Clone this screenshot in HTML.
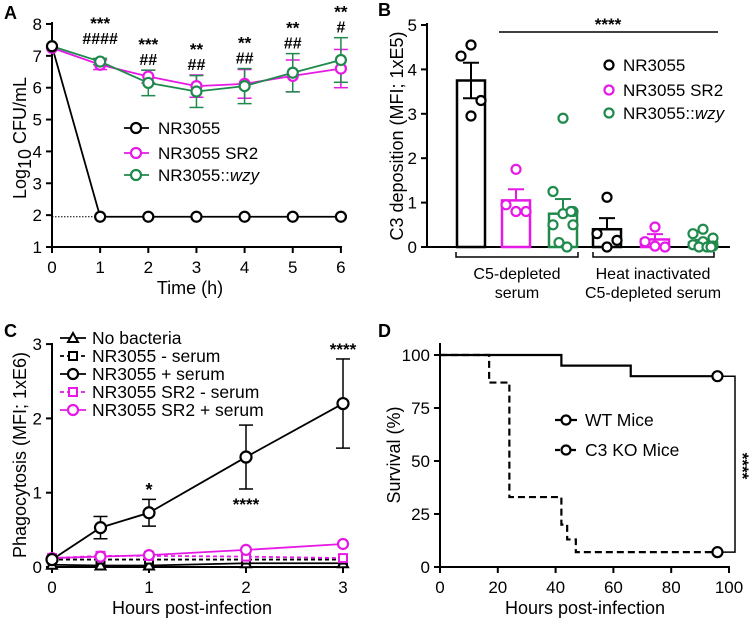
<!DOCTYPE html>
<html><head><meta charset="utf-8">
<style>
html,body{margin:0;padding:0;background:#fff;}
svg{display:block;font-family:"Liberation Sans",Arial,sans-serif;}
</style></head>
<body>
<svg id="fig" width="750" height="620" viewBox="0 0 750 620" xmlns="http://www.w3.org/2000/svg"></svg>
<script>
// ---------- Panel A data ----------
const aTimes = [0,1,2,3,4,5,6];
const aNR = [7.3,1.95,1.95,1.95,1.95,1.95,1.95];
const aSR2 = [7.25,6.72,6.35,6.05,6.12,6.37,6.6];
const aSR2Err = [0.05,0.15,0.2,0.35,0.45,0.5,0.6];
const aWzy = [7.3,6.82,6.15,5.88,6.05,6.47,6.87];
const aWzyErr = [0.05,0.1,0.4,0.5,0.55,0.6,0.7];
const aStars = ["","***","***","**","**","**","**"];
const aHash = ["","####","##","##","##","##","#"];
const aYTicks = [1,2,3,4,5,6,7,8];
// ---------- Panel B data ----------
const bMeans = [3.75,1.05,0.75,0.4,0.17,0.1];
const bSem = [0.4,0.25,0.33,0.25,0.12,0.06];
const bColors = ["#000","#e619e6","#1f8a4c","#000","#e619e6","#1f8a4c"];
const bPoints = [
  [4.55,4.3,3.3,2.95],
  [1.75,0.95,0.8,0.8],
  [2.9,1.25,0.8,0.75,0.5,0.5,0.1,0.0,0.8],
  [1.12,0.3,0.15,0.0],
  [0.45,0.12,0.0,0.02],
  [0.4,0.3,0.2,0.12,0.05,0.02,0.0,0.0,0.0]
];
const bYTicks = [0,1,2,3,4,5];
// ---------- Panel C data ----------
const cTimes = [0,0.5,1,2,3];
const cNRplus = [0.1,0.53,0.73,1.48,2.2];
const cNRplusErr = [0.02,0.15,0.18,0.43,0.6];
const cSRplus = [0.12,0.14,0.16,0.23,0.31];
const cSRminus = [0.12,0.15,0.15,0.14,0.12];
const cNRminus = [0.1,0.1,0.1,0.1,0.1];
const cNoBact = [0.03,0.02,0.02,0.05,0.05];
const cYTicks = [0,1,2,3];
const cXTicks = [0,1,2,3];
// ---------- Panel D data ----------
const dWTt = [0,42,66,96];
const dWTv = [100,95,90,90];
const dKOt = [0,17,24,42,44,47,96];
const dKOv = [100,87,33,20,13,7,7];
const dXTicks = [0,20,40,60,80,100];
const dYTicks = [0,25,50,75,100];

const NS="http://www.w3.org/2000/svg";
const svg=document.getElementById('fig');
function mk(tag,attrs,name,parent){
  const el=document.createElementNS(NS,tag);
  for(const k in attrs) el.setAttribute(k,attrs[k]);
  
  
  (parent||svg).appendChild(el);
  return el;
}
function txt(x,y,s,name,opts){
  opts=opts||{};
  const t=mk('text',{x:x,y:y,'font-size':opts.fs||17,'text-anchor':opts.anchor||'middle',fill:opts.fill||'#000','font-weight':opts.fw||'normal'},name,opts.parent);
  if(opts.rot) t.setAttribute('transform','rotate('+opts.rot+' '+x+' '+y+')');
  t.textContent=s;
  return t;
}
function line(x1,y1,x2,y2,name,st){
  st=st||{};
  return mk('line',{x1:x1,y1:y1,x2:x2,y2:y2,stroke:st.c||'#000','stroke-width':st.w||2,'stroke-dasharray':st.d||'none'},name);
}
function circ(x,y,name,c,r){return mk('circle',{cx:x,cy:y,r:r||5,fill:'#fff',stroke:c,'stroke-width':2.2},name);}
function poly(pts,name,c,dash,w){return mk('polyline',{points:pts.map(p=>p.join(',')).join(' '),fill:'none',stroke:c,'stroke-width':w||1.8,'stroke-dasharray':dash||'none'},name);}

// ================= PANEL A =================
const axA=v=>52+v*48.15, ayA=v=>247-(v-1)*31.86;
txt(4,19,'A','panel-a-label',{anchor:'start',fw:'bold',fs:18});
line(52,22,52,248,'a-y-axis');
line(51,247,342,247,'a-x-axis');
aYTicks.forEach(v=>{line(46,ayA(v),52,ayA(v),'a-y-tick');txt(42,ayA(v)+6,String(v),'a-y-tick-label',{anchor:'end'});});
aTimes.forEach(v=>{line(axA(v),247,axA(v),253,'a-x-tick');txt(axA(v),273,String(v),'a-x-tick-label');});
txt(190,294,'Time (h)','a-x-axis-title',{fs:18});
(function(){const t=txt(26,138,'','a-y-axis-title',{fs:18,rot:-90});
 t.innerHTML='Log<tspan dy="5" font-size="18">10</tspan><tspan dy="-5"> CFU/mL</tspan>';})();
line(52,ayA(1.95),axA(1),ayA(1.95),'a-detection-limit',{w:1,d:'1.5,1.5'});
const aSeries=[[aSR2,aSR2Err,'#e619e6','sr2'],[aWzy,aWzyErr,'#1f8a4c','wzy']];
aSeries.forEach(s=>{
  s[0].forEach((v,i)=>{if(i>0){const e=s[1][i];line(axA(aTimes[i]),ayA(v-e),axA(aTimes[i]),ayA(v+e),'a-'+s[3]+'-errorbar',{c:s[2],w:1.5});
    line(axA(aTimes[i])-7,ayA(v+e),axA(aTimes[i])+7,ayA(v+e),'a-'+s[3]+'-errorcap',{c:s[2],w:1.5});
    line(axA(aTimes[i])-7,ayA(v-e),axA(aTimes[i])+7,ayA(v-e),'a-'+s[3]+'-errorcap',{c:s[2],w:1.5});}});
  poly(s[0].map((v,i)=>[axA(aTimes[i]),ayA(v)]),'a-'+s[3]+'-line',s[2]);
});
poly(aNR.map((v,i)=>[axA(aTimes[i]),ayA(v)]),'a-nr3055-line','#000');
aSeries.forEach(s=>s[0].forEach((v,i)=>circ(axA(aTimes[i]),ayA(v),'a-'+s[3]+'-point',s[2],5)));
aNR.forEach((v,i)=>circ(axA(aTimes[i]),ayA(v),'a-nr3055-point','#000',5));
aStars.forEach((s,i)=>{if(!s)return;const top=Math.max(aSR2[i]+aSR2Err[i],aWzy[i]+aWzyErr[i]);
  const yb=Math.min(ayA(top)-6, i===1?ayA(7.4):999);
  txt(axA(aTimes[i]),yb-14,s,'a-significance-stars',{fs:17,fw:'bold'});
  txt(axA(aTimes[i]),yb+1,aHash[i],'a-significance-hash',{fs:16,fw:'bold'});});
[['NR3055','#000',128],['NR3055 SR2','#e619e6',153],['NR3055::wzy','#1f8a4c',175]].forEach(l=>{
  line(124,l[2],149,l[2],'a-legend-line',{c:l[1],w:1.8});circ(136,l[2],'a-legend-marker',l[1],5);
  const t=txt(158,l[2]+6,'','a-legend-text',{anchor:'start'});
  if(l[0].includes('::')) t.innerHTML='NR3055::<tspan font-style="italic">wzy</tspan>'; else t.textContent=l[0];});

// ================= PANEL B =================
const ayB=v=>247-v*44.4; const bx=[471,516,563,607,655,703];
txt(378,16,'B','panel-b-label',{anchor:'start',fw:'bold',fs:18});
line(427,23,427,248,'b-y-axis');line(426,247,730,247,'b-x-axis');
bYTicks.forEach(v=>{line(421,ayB(v),427,ayB(v),'b-y-tick');txt(417,ayB(v)+6,String(v),'b-y-tick-label',{anchor:'end'});});
txt(403,136,'C3 deposition (MFI; 1xE5)','b-y-axis-title',{fs:18,rot:-90});
bMeans.forEach((m,i)=>{
  mk('rect',{x:bx[i]-14,y:ayB(m),width:28,height:247-ayB(m),fill:'none',stroke:bColors[i],'stroke-width':2.5},'b-bar');
  line(bx[i],ayB(m),bx[i],ayB(m+bSem[i]),'b-errorbar',{c:bColors[i]});
  line(bx[i]-8,ayB(m+bSem[i]),bx[i]+8,ayB(m+bSem[i]),'b-errorcap',{c:bColors[i]});
  if(i===0){line(bx[i],ayB(m),bx[i],ayB(m-bSem[i]),'b-errorbar',{c:bColors[i]});line(bx[i]-8,ayB(m-bSem[i]),bx[i]+8,ayB(m-bSem[i]),'b-errorcap',{c:bColors[i]});}
  bPoints[i].forEach((p,j)=>{const off=[0,-10,10,0,-10,10,-4,4,8][j%9];circ(bx[i]+off,ayB(p),'b-point',bColors[i],4.5);});
});
[[456,578],[593,714]].forEach(b=>{mk('polyline',{points:`${b[0]},252 ${b[0]},257 ${b[1]},257 ${b[1]},252`,fill:'none',stroke:'#000','stroke-width':1.5},'b-group-bracket');});
txt(517,279,'C5-depleted','b-group-label-1',{fs:16});txt(517,298,'serum','b-group-label-1b',{fs:16});
txt(653,279,'Heat inactivated','b-group-label-2',{fs:16});txt(653,298,'C5-depleted serum','b-group-label-2b',{fs:16});
line(499,32,718,32,'b-significance-line',{w:1.5});txt(608,30,'****','b-significance-stars',{fw:'bold'});
[['NR3055','#000',65],['NR3055 SR2','#e619e6',90],['NR3055::wzy','#1f8a4c',113]].forEach(l=>{
  circ(609,l[2],'b-legend-marker',l[1],4.5);
  const t=txt(623,l[2]+6,'','b-legend-text',{anchor:'start'});
  if(l[0].includes('::')) t.innerHTML='NR3055::<tspan font-style="italic">wzy</tspan>'; else t.textContent=l[0];});

// ================= PANEL C =================
const axC=v=>52+v*97, ayC=v=>567-v*74.3;
txt(4,337,'C','panel-c-label',{anchor:'start',fw:'bold',fs:18});
line(52,343,52,568,'c-y-axis');line(51,567,344,567,'c-x-axis');
cYTicks.forEach(v=>{line(46,ayC(v),52,ayC(v),'c-y-tick');txt(42,ayC(v)+6,String(v),'c-y-tick-label',{anchor:'end'});});
cXTicks.forEach(v=>{line(axC(v),567,axC(v),573,'c-x-tick');txt(axC(v),593,String(v),'c-x-tick-label');});
txt(192,614,'Hours post-infection','c-x-axis-title',{fs:18});
txt(26,455,'Phagocytosis (MFI; 1xE6)','c-y-axis-title',{fs:18,rot:-90});
cNRplus.forEach((v,i)=>{const e=cNRplusErr[i];if(i===0)return;const x=axC(cTimes[i]);
  line(x,ayC(v-e),x,ayC(v+e),'c-errorbar',{w:1.5});line(x-7,ayC(v+e),x+7,ayC(v+e),'c-errorcap',{w:1.5});line(x-7,ayC(v-e),x+7,ayC(v-e),'c-errorcap',{w:1.5});});
function sq(x,y,c,n){return mk('rect',{x:x-4,y:y-4,width:8,height:8,fill:'#fff',stroke:c,'stroke-width':2},n);}
function tri(x,y,c,n){return mk('polygon',{points:`${x},${y-5} ${x-5},${y+4} ${x+5},${y+4}`,fill:'#fff',stroke:c,'stroke-width':2},n);}
poly(cNoBact.map((v,i)=>[axC(cTimes[i]),ayC(v)]),'c-no-bacteria-line','#000');
poly(cNRminus.map((v,i)=>[axC(cTimes[i]),ayC(v)]),'c-nr3055-minus-line','#000','4,3');
poly(cSRminus.map((v,i)=>[axC(cTimes[i]),ayC(v)]),'c-sr2-minus-line','#e619e6','4,3');
poly(cSRplus.map((v,i)=>[axC(cTimes[i]),ayC(v)]),'c-sr2-plus-line','#e619e6');
poly(cNRplus.map((v,i)=>[axC(cTimes[i]),ayC(v)]),'c-nr3055-plus-line','#000');
cNoBact.forEach((v,i)=>tri(axC(cTimes[i]),ayC(v),'#000','c-no-bacteria-point'));
cNRminus.forEach((v,i)=>sq(axC(cTimes[i]),ayC(v),'#000','c-nr3055-minus-point'));
cSRminus.forEach((v,i)=>sq(axC(cTimes[i]),ayC(v),'#e619e6','c-sr2-minus-point'));
cSRplus.forEach((v,i)=>circ(axC(cTimes[i]),ayC(v),'c-sr2-plus-point','#e619e6',5));
cNRplus.forEach((v,i)=>circ(axC(cTimes[i]),ayC(v),'c-nr3055-plus-point','#000',5.5));
txt(axC(1),496,'*','c-sig-1h',{fs:18,fw:'bold'});
txt(axC(2),510,'****','c-sig-2h',{fs:17,fw:'bold'});
txt(axC(3),355,'****','c-sig-3h',{fs:17,fw:'bold'});
[['No bacteria','#000',338,'tri','none'],['NR3055 - serum','#000',356,'sq','4,3'],['NR3055 + serum','#000',374,'circ','none'],['NR3055 SR2 - serum','#e619e6',392,'sq','4,3'],['NR3055 SR2 + serum','#e619e6',410,'circ','none']].forEach(l=>{
  line(60,l[2],86,l[2],'c-legend-line',{c:l[1],w:1.8,d:l[4]});
  if(l[3]==='tri')tri(73,l[2],l[1],'c-legend-marker');else if(l[3]==='sq')sq(73,l[2],l[1],'c-legend-marker');else circ(73,l[2],'c-legend-marker',l[1],5);
  txt(92,l[2]+6,l[0],'c-legend-text',{anchor:'start',fs:17.5});});

// ================= PANEL D =================
const axD=v=>440+v*2.89, ayD=v=>567-v*2.12;
txt(378,337,'D','panel-d-label',{anchor:'start',fw:'bold',fs:18});
line(440,343,440,568,'d-y-axis');line(439,567,730,567,'d-x-axis');
dYTicks.forEach(v=>{line(434,ayD(v),440,ayD(v),'d-y-tick');txt(430,ayD(v)+6,String(v),'d-y-tick-label',{anchor:'end'});});
dXTicks.forEach(v=>{line(axD(v),567,axD(v),573,'d-x-tick');txt(axD(v),593,String(v),'d-x-tick-label');});
txt(585,614,'Hours post-infection','d-x-axis-title',{fs:18});
txt(400,455,'Survival (%)','d-y-axis-title',{fs:18,rot:-90});
function steps(t,v){const p=[];for(let i=0;i<t.length;i++){if(i>0)p.push([axD(t[i]),ayD(v[i-1])]);p.push([axD(t[i]),ayD(v[i])]);}return p;}
poly(steps(dWTt,dWTv),'d-wt-line','#000',null,2.2);
poly(steps(dKOt,dKOv),'d-c3ko-line','#000','7,4',2.2);
circ(axD(96),ayD(dWTv[dWTv.length-1]),'d-wt-end-marker','#000',5);
circ(axD(96),ayD(dKOv[dKOv.length-1]),'d-c3ko-end-marker','#000',5);
mk('polyline',{points:`${axD(98)},${ayD(90)} ${735},${ayD(90)} 735,${ayD(7)} ${axD(98)},${ayD(7)}`,fill:'none',stroke:'#000','stroke-width':1.5},'d-significance-bracket');
txt(737,466,'****','d-significance-stars',{fs:17,fw:'bold',rot:90});
line(555,420,577,420,'d-legend-line-wt',{w:2.2});circ(566,420,'d-legend-marker','#000',4.5);
txt(585,426,'WT Mice','d-legend-text',{anchor:'start',fs:17.5});
line(555,450,577,450,'d-legend-line-ko',{w:2.2,d:'5,3'});circ(566,450,'d-legend-marker','#000',4.5);
txt(585,456,'C3 KO Mice','d-legend-text',{anchor:'start',fs:17.5});
</script>
</body></html>
